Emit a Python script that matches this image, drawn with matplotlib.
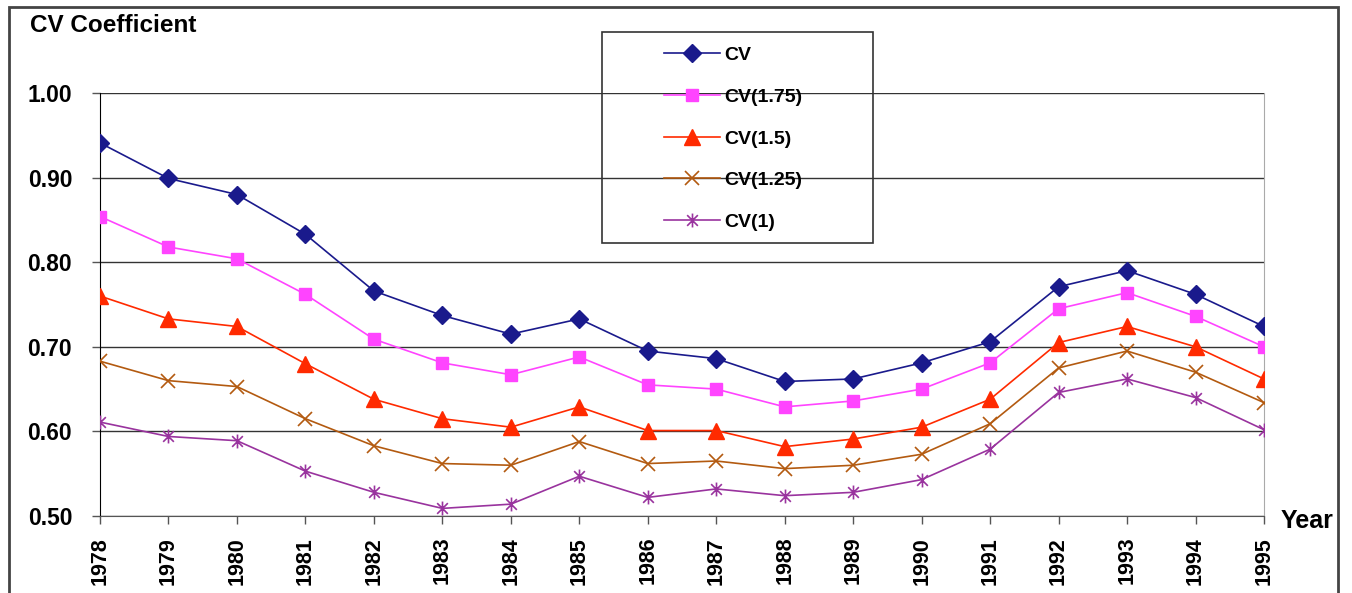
import matplotlib
matplotlib.use("Agg")
import matplotlib.pyplot as plt
from matplotlib.path import Path
from matplotlib.patches import Rectangle

plt.rcParams['font.family'] = ['Liberation Sans', 'DejaVu Sans']
plt.rcParams['font.weight'] = 'bold'

years = list(range(1978, 1996))

cv = [0.941, 0.899, 0.880, 0.833, 0.766, 0.737, 0.715, 0.733, 0.695,
      0.686, 0.659, 0.662, 0.681, 0.706, 0.771, 0.790, 0.762, 0.724]
cv_175 = [0.854, 0.818, 0.804, 0.762, 0.709, 0.681, 0.667, 0.688, 0.655,
          0.650, 0.629, 0.636, 0.650, 0.681, 0.745, 0.764, 0.736, 0.700]
cv_15 = [0.760, 0.733, 0.724, 0.680, 0.638, 0.615, 0.605, 0.629, 0.601,
         0.601, 0.582, 0.591, 0.605, 0.638, 0.705, 0.724, 0.700, 0.662]
cv_125 = [0.683, 0.660, 0.653, 0.615, 0.583, 0.562, 0.560, 0.588, 0.562,
          0.565, 0.556, 0.560, 0.573, 0.609, 0.675, 0.695, 0.670, 0.634]
cv_1 = [0.611, 0.594, 0.589, 0.553, 0.528, 0.509, 0.514, 0.547, 0.522,
        0.532, 0.524, 0.528, 0.543, 0.579, 0.646, 0.662, 0.640, 0.602]

labels = ['CV', 'CV(1.75)', 'CV(1.5)', 'CV(1.25)', 'CV(1)']

# asterisk marker: an X with a vertical bar through it
star = Path([(-1, -1), (1, 1), (-1, 1), (1, -1), (0, -1.3), (0, 1.3)],
            [Path.MOVETO, Path.LINETO, Path.MOVETO, Path.LINETO,
             Path.MOVETO, Path.LINETO])

W, H = 1352, 593
fig = plt.figure(figsize=(W / 100, H / 100), dpi=100)
fig.patch.set_facecolor('white')
ax = fig.add_axes([100 / W, 1 - 516 / H, (1264 - 100) / W, (516 - 93) / H])

ax.plot(years, cv, color='#1a1a8c', lw=1.2, marker='D', ms=9.5,
        mfc='#1a1a8c', mec='#1a1a8c', label=labels[0], zorder=5)
ax.plot(years, cv_175, color='#ff44ff', lw=1.2, marker='s', ms=9,
        mfc='#ff44ff', mec='#ff44ff', label=labels[1], zorder=5)
ax.plot(years, cv_15, color='#ff2a00', lw=1.2, marker='^', ms=11,
        mfc='#ff2a00', mec='#ff2a00', label=labels[2], zorder=5)
ax.plot(years, cv_125, color='#b35a10', lw=1.2, marker='x', ms=10,
        mew=1.2, label=labels[3], zorder=5)
ax.plot(years, cv_1, color='#99339e', lw=1.2, marker=star, ms=10,
        mew=1.2, label=labels[4], zorder=5)

ax.set_xlim(1978, 1995)
ax.set_ylim(0.5, 1.0)
ax.set_xticks(years)
ax.set_xticklabels([str(y) for y in years], rotation=90, fontsize=15.5,
                   fontweight='bold')
ax.set_yticks([0.5, 0.6, 0.7, 0.8, 0.9, 1.0])
ax.set_yticklabels(['%.2f' % v for v in [0.5, 0.6, 0.7, 0.8, 0.9, 1.0]],
                   fontsize=16.5, fontweight='bold')
ax.tick_params(axis='x', direction='out', length=6, width=1, color='#555555', pad=9)
ax.tick_params(axis='y', direction='out', length=6, width=1, color='#555555', pad=14)
ax.yaxis.grid(True, color='#333333', lw=1)
ax.set_axisbelow(True)

ax.spines['top'].set_visible(False)
ax.spines['left'].set_color('black')
ax.spines['bottom'].set_color('#555555')
ax.spines['right'].set_color('#aaaaaa')

fig.text(30 / W, 1 - 26 / H, 'CV Coefficient', fontsize=17.5, fontweight='bold',
         va='center', ha='left')
fig.text(1281 / W, 1 - 521 / H, 'Year', fontsize=18, fontweight='bold',
         va='center', ha='left')

# legend box
fig.patches.append(Rectangle((602 / W, 1 - 243 / H), 271 / W, 211 / H,
                             transform=fig.transFigure, fill=False,
                             ec='#333333', lw=1.2))
fig.legend(loc='upper left', bbox_to_anchor=(646 / W, 1 - 29 / H),
           frameon=False, handlelength=2.9, handletextpad=0.2,
           labelspacing=1.24, prop={'weight': 'bold', 'size': 14})

# outer frame
fig.patches.append(Rectangle((9 / W, -0.05), (1338 - 9) / W, 1.05 - 7 / H,
                             transform=fig.transFigure, fill=False,
                             ec='#444444', lw=2))

fig.savefig('out.png', dpi=100)
